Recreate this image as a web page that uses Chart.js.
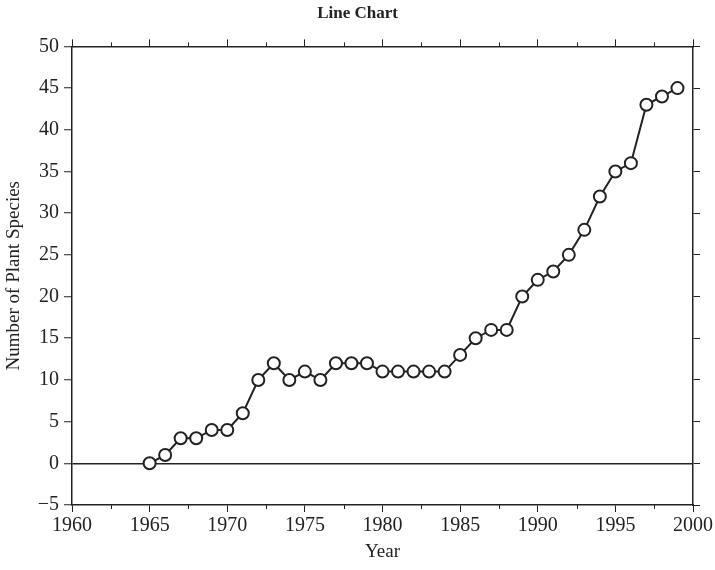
<!DOCTYPE html>
<html>
<head>
<meta charset="utf-8">
<script src="https://cdn.jsdelivr.net/npm/chart.js@4/dist/chart.umd.min.js"></script>
<style>
  html, body { margin: 0; padding: 0; background: #fff; }
  #wrap { width: 715px; height: 570px; }
</style>
</head>
<body>
<div id="wrap"><canvas id="lineChart"></canvas></div>
<script>
// Data
const years = [1965, 1966, 1967, 1968, 1969, 1970, 1971, 1972, 1973, 1974, 1975, 1976,
               1977, 1978, 1979, 1980, 1981, 1982, 1983, 1984, 1985, 1986, 1987, 1988,
               1989, 1990, 1991, 1992, 1993, 1994, 1995, 1996, 1997, 1998, 1999];
const species = [0, 1, 3, 3, 4, 4, 6, 10, 12, 10, 11, 10,
                 12, 12, 12, 11, 11, 11, 11, 11, 13, 15, 16, 16,
                 20, 22, 23, 25, 28, 32, 35, 36, 43, 44, 45];
const xRange = [1960, 2000];
const yRange = [-5, 50];

const ink = '#222';
const serif = 'Liberation Serif';

// small ticks half-way between the labelled years
const minorTicks = {
    id: 'minorTicks',
    afterDraw(chart) {
        const ctx = chart.ctx;
        const area = chart.chartArea;
        const x = chart.scales.x;
        ctx.save();
        ctx.strokeStyle = ink;
        ctx.lineWidth = 1;
        for (let v = xRange[0] + 2.5; v < xRange[1]; v += 5) {
            const px = Math.round(x.getPixelForValue(v)) + 0.5;
            ctx.beginPath();
            ctx.moveTo(px, area.bottom);
            ctx.lineTo(px, area.bottom + 4);
            ctx.moveTo(px, area.top);
            ctx.lineTo(px, area.top - 4);
            ctx.stroke();
        }
        ctx.restore();
    }
};

const points = years.map((yr, i) => ({ x: yr, y: species[i] }));

new Chart(document.getElementById('lineChart'), {
    type: 'line',
    data: {
        datasets: [{
            data: points,
            borderColor: ink,
            borderWidth: 2,
            pointRadius: 6,
            pointBackgroundColor: '#fff',
            pointBorderColor: ink,
            pointBorderWidth: 2,
            tension: 0
        }]
    },
    options: {
        responsive: true,
        maintainAspectRatio: false,
        animation: false,
        layout: { padding: 0 },
        plugins: {
            legend: { display: false },
            tooltip: { enabled: false },
            title: {
                display: true,
                text: 'Line Chart',
                color: ink,
                font: { family: serif, size: 17, weight: 'bold' },
                padding: { top: 3, bottom: 7 }
            }
        },
        scales: {
            x: {
                type: 'linear',
                position: 'bottom',
                min: xRange[0],
                max: xRange[1],
                afterFit(scale) { scale.height = 65; },
                ticks: {
                    stepSize: 5,
                    color: ink,
                    padding: 2,
                    maxRotation: 0,
                    font: { family: serif, size: 20 },
                    callback: v => String(v)
                },
                grid: { drawOnChartArea: false, tickLength: 7, tickColor: ink, tickWidth: 1 },
                border: { display: true, color: ink, width: 1.5 }
                ,
                title: {
                    display: true,
                    text: 'Year',
                    color: ink,
                    font: { family: serif, size: 19 },
                    padding: { top: 4, bottom: 7 }
                }
            },
            x2: {
                type: 'linear',
                position: 'top',
                min: xRange[0],
                max: xRange[1],
                afterFit(scale) { scale.height = 16; },
                ticks: { stepSize: 5, display: false },
                grid: { drawOnChartArea: false, tickLength: 7, tickColor: ink, tickWidth: 1 },
                border: { display: true, color: ink, width: 1.5 }
            },
            y: {
                type: 'linear',
                position: 'left',
                min: yRange[0],
                max: yRange[1],
                afterFit(scale) { scale.width = 72; },
                ticks: {
                    stepSize: 5,
                    color: ink,
                    padding: 5,
                    font: { family: serif, size: 20 },
                    callback: v => (v < 0 ? '\u2212' + Math.abs(v) : String(v))
                },
                grid: {
                    drawOnChartArea: true,
                    color: c => (c.tick && c.tick.value === 0 ? ink : 'transparent'),
                    lineWidth: 1.5,
                    tickLength: 8,
                    tickColor: ink,
                    tickWidth: 1
                },
                border: { display: true, color: ink, width: 1.5 },
                title: {
                    display: true,
                    text: 'Number of Plant Species',
                    color: ink,
                    font: { family: serif, size: 19 },
                    padding: { top: 3, bottom: 3 }
                }
            },
            y2: {
                type: 'linear',
                position: 'right',
                min: yRange[0],
                max: yRange[1],
                afterFit(scale) { scale.width = 22; },
                ticks: { stepSize: 5, display: false },
                grid: { drawOnChartArea: false, tickLength: 7, tickColor: ink, tickWidth: 1 },
                border: { display: true, color: ink, width: 1.5 }
            }
        }
    },
    plugins: [minorTicks]
});
</script>
</body>
</html>
